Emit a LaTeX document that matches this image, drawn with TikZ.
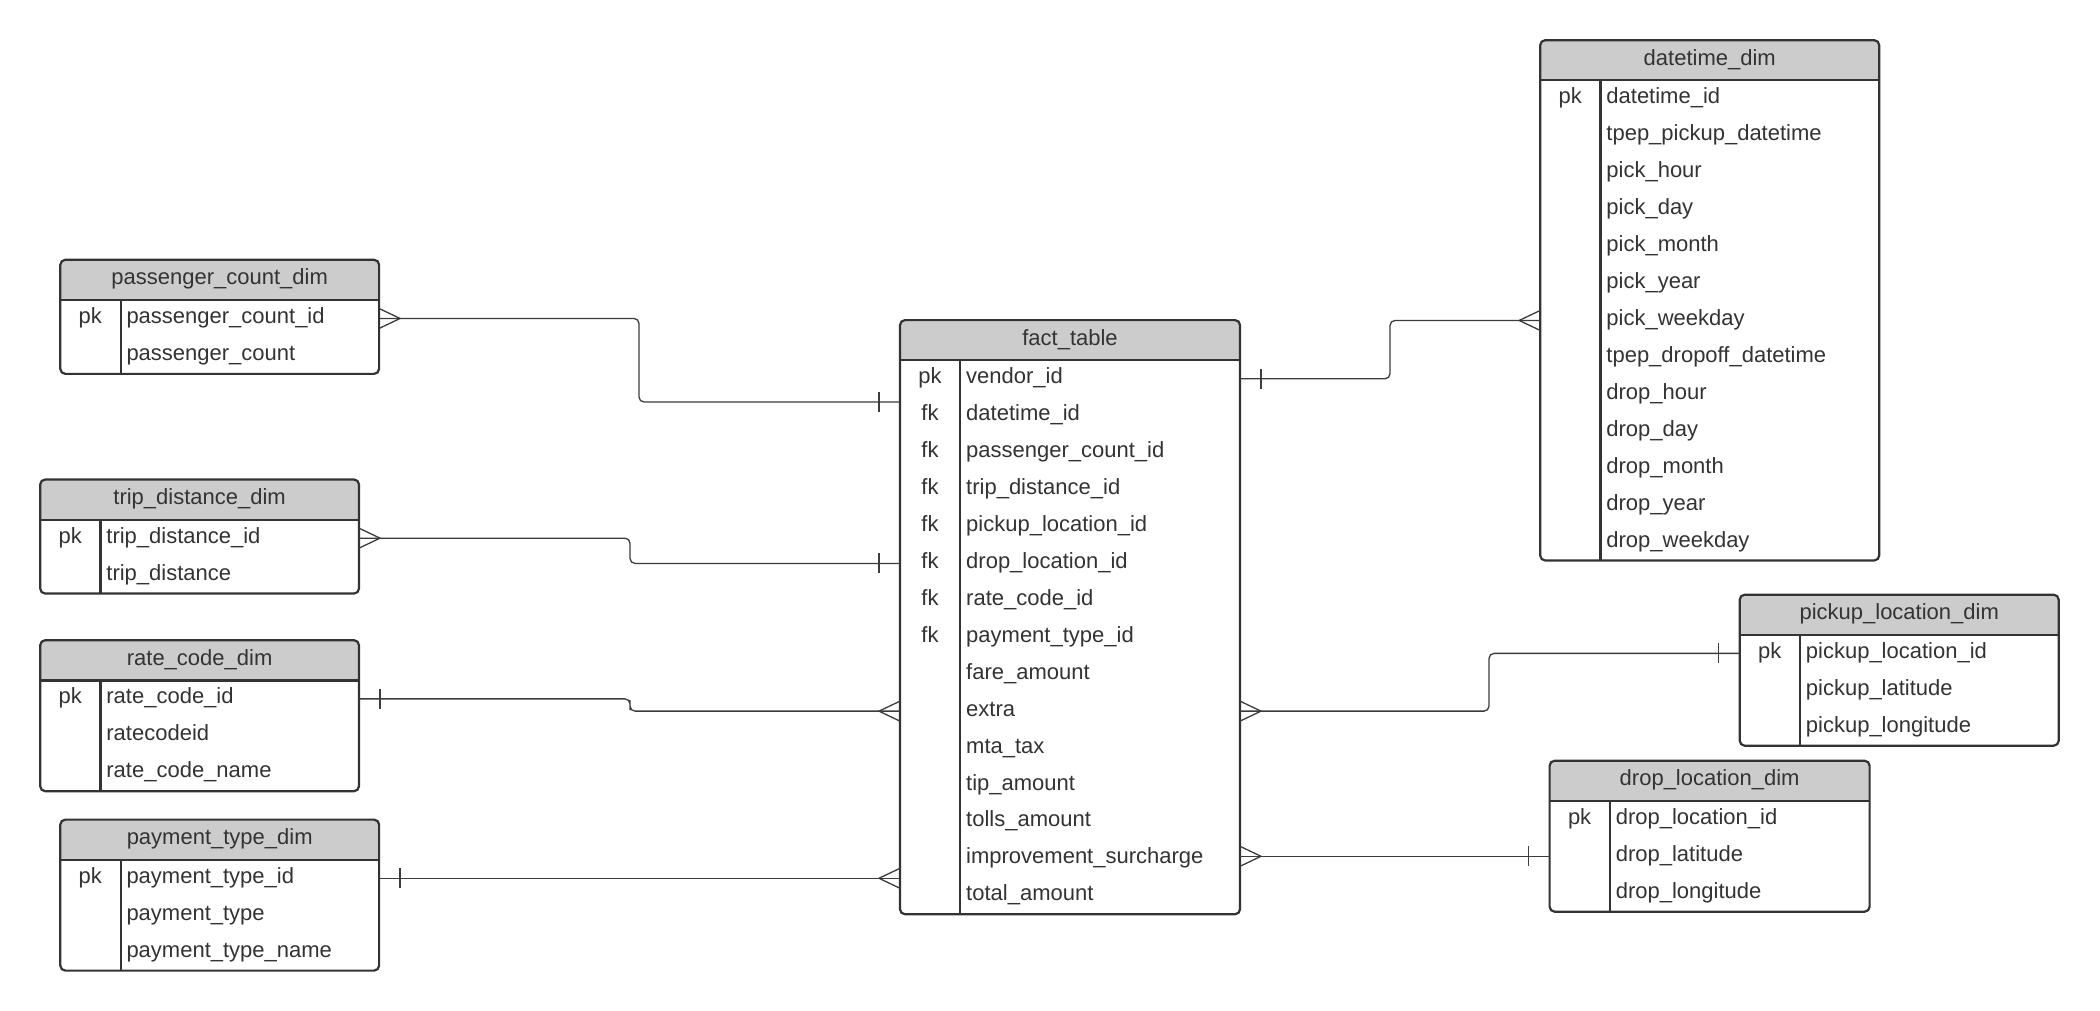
\documentclass[tikz,border=0pt]{standalone}
\usepackage{fontspec}
\setmainfont{Liberation Sans}
\usetikzlibrary{calc}

\definecolor{ink}{HTML}{333333}
\definecolor{headgray}{HTML}{CCCCCC}
\definecolor{frame}{HTML}{333333}
\definecolor{wire}{HTML}{3C3C3C}

\tikzset{
  every node/.style={font=\fontsize{22}{26}\selectfont, text=ink},
  tablebox/.style={fill=white, inner sep=0pt, outer sep=0pt},
  tableline/.style={draw=frame, line width=2.2pt},
  keytext/.style={anchor=base, inner sep=0pt},
  fieldtext/.style={anchor=base west, inner sep=0pt},
  titletext/.style={anchor=base, inner sep=0pt},
  conn/.style={draw=wire, line width=1.3pt, rounded corners=5pt},
  tick/.style={draw=wire, line width=1.3pt},
}

% ER table: name, x, y (top left), width, number of rows, title, rows key/field
\newcommand\erdtable[7]{%
  \pgfmathsetmacro\tabh{40.2+#5*36.93}
  \node[tablebox, minimum width=#4pt, minimum height=\tabh pt, anchor=north west] (#1) at (#2,#3) {};
  \begin{scope}
    \clip[rounded corners=5pt] (#1.north west) rectangle (#1.south east);
    \fill[headgray] (#1.north west) rectangle ($(#1.north east)+(0,40.2)$);
  \end{scope}
  \draw[tableline] ($(#1.north west)+(0,40.2)$) -- ($(#1.north east)+(0,40.2)$);
  \draw[tableline] ($(#1.north west)+(60.3,40.2)$) -- ($(#1.south west)+(60.3,0)$);
  \draw[tableline, rounded corners=5pt] (#1.north west) rectangle (#1.south east);
  \node[titletext] (#1-title) at ($(#1.north)+(0,25)$) {#6};
  \foreach \k/\f [count=\i] in {#7} {
    \pgfmathsetmacro\rc{#3+40.2+(\i-0.5)*36.93}
    \coordinate (#1-r\i-w) at (#2,\rc);
    \coordinate (#1-r\i-e) at (#2+#4,\rc);
    \node[keytext] (#1-k\i) at (#2+30,\rc+5) {\k};
    \node[fieldtext] (#1-f\i) at (#2+66,\rc+5) {\f};
  }
}

% relationship ends: crow's foot (many) and bar (one), on east or west table edges
\newcommand\manyE[1]{\draw[tick] ($(#1)+(0,-10)$) -- ($(#1)+(21,0)$) -- ($(#1)+(0,10)$);}
\newcommand\manyW[1]{\draw[tick] ($(#1)+(0,-10)$) -- ($(#1)+(-21,0)$) -- ($(#1)+(0,10)$);}
\newcommand\oneE[1]{\draw[tick] ($(#1)+(21,-10)$) -- ($(#1)+(21,10)$);}
\newcommand\oneW[1]{\draw[tick] ($(#1)+(-21,-10)$) -- ($(#1)+(-21,10)$);}

\begin{document}
\begin{tikzpicture}[x=1pt, y=-1pt]
\fill[white] (0,0) rectangle (2100,1011);
\useasboundingbox (0,0) rectangle (2100,1011);

\erdtable{pc}{60.3}{259.8}{318.8}{2}{passenger\_count\_dim}
  {pk/passenger\_count\_id, /passenger\_count}
\erdtable{td}{40.2}{479.5}{318.8}{2}{trip\_distance\_dim}
  {pk/trip\_distance\_id, /trip\_distance}
\erdtable{rc}{40.2}{640.2}{318.8}{3}{rate\_code\_dim}
  {pk/rate\_code\_id, /ratecodeid, /rate\_code\_name}
\erdtable{pt}{60.3}{819.6}{318.8}{3}{payment\_type\_dim}
  {pk/payment\_type\_id, /payment\_type, /payment\_type\_name}
\erdtable{fact}{900}{320.1}{340}{15}{fact\_table}
  {pk/vendor\_id, fk/datetime\_id, fk/passenger\_count\_id, fk/trip\_distance\_id,
   fk/pickup\_location\_id, fk/drop\_location\_id, fk/rate\_code\_id, fk/payment\_type\_id,
   /fare\_amount, /extra, /mta\_tax, /tip\_amount, /tolls\_amount,
   /improvement\_surcharge, /total\_amount}
\erdtable{dt}{1540.2}{40.2}{339}{13}{datetime\_dim}
  {pk/datetime\_id, /tpep\_pickup\_datetime, /pick\_hour, /pick\_day, /pick\_month,
   /pick\_year, /pick\_weekday, /tpep\_dropoff\_datetime, /drop\_hour, /drop\_day,
   /drop\_month, /drop\_year, /drop\_weekday}
\erdtable{pl}{1739.7}{594.7}{319}{3}{pickup\_location\_dim}
  {pk/pickup\_location\_id, /pickup\_latitude, /pickup\_longitude}
\erdtable{dl}{1549.6}{760.7}{320}{3}{drop\_location\_dim}
  {pk/drop\_location\_id, /drop\_latitude, /drop\_longitude}

% join points on the fact table that do not sit on a row centre
\coordinate (pcjoin) at (900,402);
\coordinate (ptjoin) at (fact.west |- pt-r1-e);
\coordinate (dljoin) at (fact.east |- dl-r2-w);

% passenger_count_dim -- fact_table
\draw[conn] (pc-r1-e) -| (639,360) |- (pcjoin);
\manyE{pc-r1-e} \oneW{pcjoin}
% trip_distance_dim -- fact_table
\draw[conn] (td-r1-e) -| (630,550) |- (fact-r6-w);
\manyE{td-r1-e} \oneW{fact-r6-w}
% rate_code_dim -- fact_table
\draw[conn] (rc-r1-e) -| (630,705) |- (fact-r10-w);
\oneE{rc-r1-e} \manyW{fact-r10-w}
% payment_type_dim -- fact_table
\draw[conn] (pt-r1-e) -- (ptjoin);
\oneE{pt-r1-e} \manyW{ptjoin}
% fact_table -- datetime_dim
\draw[conn] (fact-r1-e) -| (1390,350) |- (dt-r7-w);
\oneE{fact-r1-e} \manyW{dt-r7-w}
% fact_table -- pickup_location_dim
\draw[conn] (fact-r10-e) -| (1489,680) |- (pl-r1-w);
\manyE{fact-r10-e} \oneW{pl-r1-w}
% fact_table -- drop_location_dim
\draw[conn] (dljoin) -- (dl-r2-w);
\manyE{dljoin} \oneW{dl-r2-w}
\end{tikzpicture}
\end{document}
